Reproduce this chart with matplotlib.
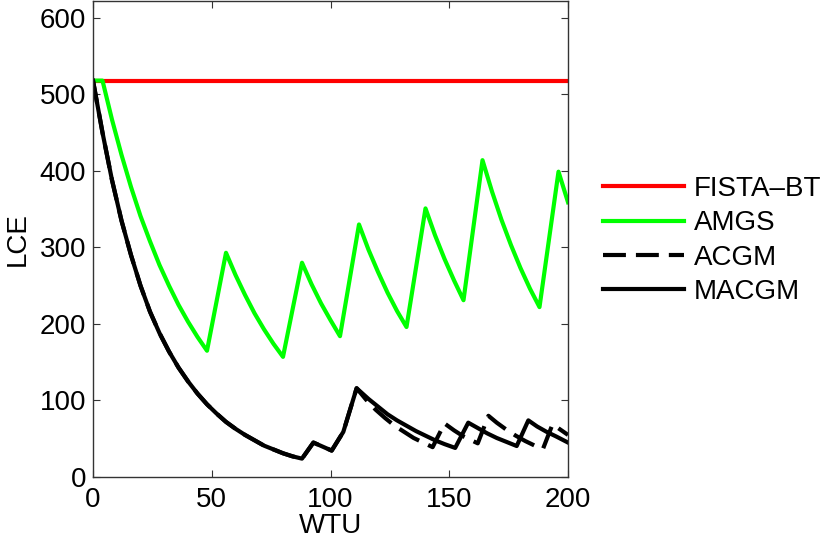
import numpy as np
import matplotlib
matplotlib.use("Agg")
import matplotlib.pyplot as plt

plt.rcParams['font.family'] = ['Liberation Sans', 'DejaVu Sans']

# FISTA-BT: flat
fista_x = [0, 200]
fista_y = [518, 518]

# AMGS
amgs_x = [0, 4, 8, 12, 16, 20, 24, 28, 32, 36, 40, 44, 48,
          56, 60, 64, 68, 72, 76, 80,
          88, 92, 96, 100, 104,
          112, 116, 120, 124, 128, 132,
          140, 144, 148, 152, 156,
          164, 168, 172, 176, 180, 184, 188,
          196, 200]
amgs_y = [518, 518, 467, 421, 379, 341, 308, 277, 250, 225, 203, 183, 165,
          293, 264, 238, 214, 193, 174, 157,
          280, 252, 227, 205, 184,
          330, 297, 268, 241, 217, 196,
          351, 316, 285, 257, 231,
          414, 373, 336, 303, 273, 246, 222,
          399, 359]

# common start of ACGM / MACGM
base_x = [0, 4, 8, 12, 16, 20, 24, 28, 32, 36, 40, 44, 48, 52, 56, 60, 64,
          68, 72, 76, 80, 84, 88, 92.8, 100.5, 105.4, 111]
base_y = [518, 450, 388, 335, 290, 250, 216, 188, 164, 143, 125, 109, 95, 83,
          72, 63, 55, 48, 41, 36, 31, 27, 24, 45, 34.5, 59, 116]

# ACGM tail (dashed)
acgm_tx = [115, 119, 123, 127, 131, 135, 139, 143,
           148, 152, 156, 160, 162,
           166.5, 170, 174, 178, 182, 186, 189.5,
           193.5, 200]
acgm_ty = [101, 88, 77, 67, 59, 51, 45, 39,
           70, 61, 53, 47, 44,
           80, 71, 62, 54, 47, 41, 37,
           69, 55]

# MACGM tail (solid)
macgm_tx = [116, 120, 124, 128, 132, 136, 140, 144, 148, 152.5,
            158, 162, 166, 170, 174, 178.4,
            183.3, 187, 191, 195, 200]
macgm_ty = [102, 92, 82, 74, 67, 60, 54, 48, 43, 38,
            71, 64, 57, 51, 46, 40.5,
            74, 66, 59, 53, 45]

fig = plt.figure(figsize=(8.3, 5.42), dpi=100)
ax = fig.add_axes([93/830, 65/542, 475/830, 476/542])

lw = 3
ax.plot(fista_x, fista_y, color='#ff0000', lw=lw, label='FISTA\u2013BT')
ax.plot(amgs_x, amgs_y, color='#00ff00', lw=lw, label='AMGS')
ax.plot(base_x + acgm_tx, base_y + acgm_ty, color='black', lw=lw,
        linestyle=(0, (5.5, 2.4)), label='ACGM')
ax.plot(base_x + macgm_tx, base_y + macgm_ty, color='black', lw=lw,
        label='MACGM')

ax.set_xlim(0, 200)
ax.set_ylim(0, 622)
ax.set_xticks([0, 50, 100, 150, 200])
ax.set_yticks([0, 100, 200, 300, 400, 500, 600])
ax.tick_params(direction='in', top=True, right=True, length=5,
               labelsize=20, color='#333333')
ax.tick_params(axis='x', pad=7)
ax.tick_params(axis='y', pad=5)
for s in ax.spines.values():
    s.set_color('#333333')
    s.set_linewidth(1)

ax.set_xlabel('WTU', fontsize=20, labelpad=0)
ax.set_ylabel('LCE', fontsize=20, labelpad=6)

fig.legend(loc='upper left', bbox_to_anchor=(603/830, 1 - 176/542),
           frameon=False, fontsize=20, handlelength=2.9, handletextpad=0.36,
           labelspacing=0.3, borderaxespad=0, borderpad=0)

fig.savefig('out.png', dpi=100)
